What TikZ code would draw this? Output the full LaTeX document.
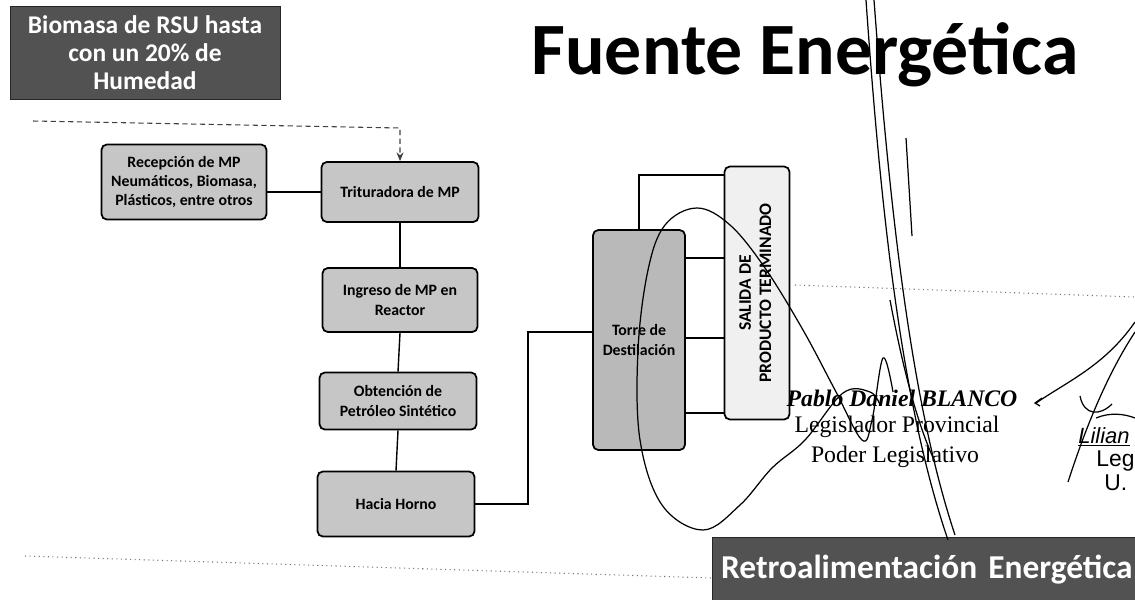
\documentclass[tikz,border=0pt]{standalone}
\usepackage{fontspec}
\setmainfont{Carlito}
\newfontfamily\stampfont{Liberation Serif}
\newfontfamily\stampsans{Liberation Sans}
\usetikzlibrary{arrows.meta}
\begin{document}
\begin{tikzpicture}[x=0.02cm,y=-0.02cm,
  box/.style={draw=black, line width=1pt, rounded corners=3pt, fill=gray!45, align=center,
    font=\bfseries\fontsize{9}{11}\selectfont, inner sep=2pt},
  conn/.style={draw=black, line width=0.8pt},
  sig/.style={draw=black, line width=0.7pt},
  banner/.style={fill=black!68, draw=black!85, text=white, inner sep=2pt},
  stamp/.style={font=\stampfont\fontsize{13.5}{16}\selectfont, inner sep=1pt}]
\useasboundingbox (0,0) rectangle (1135,599);
\clip (0,0) rectangle (1135,599);
\fill[white] (0,0) rectangle (1135,599);

% banners and title
\node[banner, minimum width=5.4cm, minimum height=1.86cm, align=center,
  font=\bfseries\fontsize{14.5}{16}\selectfont] (bio) at (145,53)
  {Biomasa de RSU hasta\\con un 20\% de\\Humedad};
\node[font=\bfseries\fontsize{42}{46}\selectfont] (title) at (805,55) {Fuente Energética};
\node[banner, anchor=north west, minimum height=1.3cm, text width=8.4cm, align=left,
  inner xsep=5pt, font=\bfseries\fontsize{19}{21}\selectfont] (retro) at (712,537)
  {Retroalimentación Energética};

% process boxes
\node[box, minimum width=3.3cm, minimum height=1.5cm] (rec) at (184,182)
  {Recepción de MP\\Neumáticos, Biomasa,\\Plásticos, entre otros};
\node[box, minimum width=3.14cm, minimum height=1.2cm] (tri) at (400,192) {Trituradora de MP};
\node[box, minimum width=3.1cm, minimum height=1.28cm] (ing) at (400,300) {Ingreso de MP en\\Reactor};
\node[box, minimum width=3.14cm, minimum height=1.14cm] (obt) at (398,401) {Obtención de\\Petróleo Sintético};
\node[box, minimum width=3.14cm, minimum height=1.3cm] (hh) at (396,504) {Hacia Horno};
\node[box, fill=gray!55, minimum width=1.84cm, minimum height=4.4cm] (torre) at (639,340) {Torre de\\Destilación};
\node[box, fill=gray!12, minimum width=1.3cm, minimum height=5.06cm, font=\bfseries\fontsize{10}{11.5}\selectfont] (sal) at (757,293)
  {\rotatebox{90}{\begin{tabular}{@{}c@{}}SALIDA DE\\PRODUCTO TERMINADO\end{tabular}}};

% connectors
\coordinate (d0) at (33,121);
\coordinate (d1) at (0,128);
\draw[densely dashed, line width=0.6pt, black!75, -{Stealth[length=5pt,width=4pt]}] (d0) -- (tri.north |- d1) -- (tri.north);
\draw[conn] (rec.east |- tri.west) -- (tri.west);
\draw[conn] (tri.south) -- (ing.north);
\draw[conn] (ing.south) -- (obt.north);
\draw[conn] (obt.south) -- (hh.north);
\coordinate (j) at (528,332);
\draw[conn] (hh.east) -| (j) -- (torre.west |- j);
\coordinate (l0) at (0,175);
\coordinate (l1) at (0,258);
\coordinate (l2) at (0,338);
\coordinate (l3) at (0,413);
\draw[conn] (torre.north) |- (sal.west |- l0);
\draw[conn] (torre.east |- l1) -- (sal.west |- l1);
\draw[conn] (torre.east |- l2) -- (sal.west |- l2);
\draw[conn] (torre.east |- l3) -- (sal.west |- l3);

% faint dotted rules
\coordinate (b0) at (25,556);
\coordinate (b1) at (0,578);
\draw[dotted, black!55, line width=0.6pt] (b0) -- (retro.west |- b1);
\coordinate (r0) at (795,285);
\coordinate (r1) at (1135,297);
\draw[dotted, black!55, line width=0.6pt] (r0) -- (r1);

% stamp texts
\node[stamp, font=\stampfont\bfseries\itshape\fontsize{13.5}{16}\selectfont] (s1) at (902,398) {Pablo Daniel BLANCO};
\node[stamp] (s2) at (897,427) {Legislador Provincial};
\node[stamp] (s3) at (895,457) {Poder Legislativo};
\node[font=\stampsans\itshape\fontsize{12.5}{15}\selectfont, anchor=west, inner sep=0pt] (s4) at (1078,437) {\underline{Lilian}};
\node[font=\stampsans\fontsize{13}{16}\selectfont, anchor=west, inner sep=0pt] (s5) at (1096,461) {Leg};
\node[font=\stampsans\fontsize{13}{16}\selectfont, anchor=west, inner sep=0pt] (s6) at (1104,483) {U.};

% signature strokes
\draw[sig] plot[smooth, tension=0.6] coordinates {(893,392) (883,358) (872,420) (862,440) (835,390) (803,330) (765,268) (730,225) (697,208) (665,225) (648,270) (638,350) (640,440) (662,505) (703,530) (740,505) (772,468) (805,440) (843,393) (870,392) (880,405)};
\draw[sig] (866,0) .. controls (880,200) and (900,400) .. (948,540);
\draw[sig] (874,0) .. controls (889,200) and (910,400) .. (955,535);
\draw[sig] (890,300) .. controls (905,380) and (920,430) .. (935,462);
\draw[sig] (906,138) -- (912,236);
\draw[sig] (1040,406) -- (1035,403) -- (1042,398);
\draw[sig] (1036,403) .. controls (1070,380) and (1105,365) .. (1135,322);
\draw[sig] (1068,482) .. controls (1088,420) and (1110,370) .. (1135,332);
\draw[sig] (1080,396) .. controls (1084,416) and (1100,416) .. (1112,404);
\draw[sig] (1096,418) .. controls (1110,412) and (1125,414) .. (1135,418);
\end{tikzpicture}
\end{document}
